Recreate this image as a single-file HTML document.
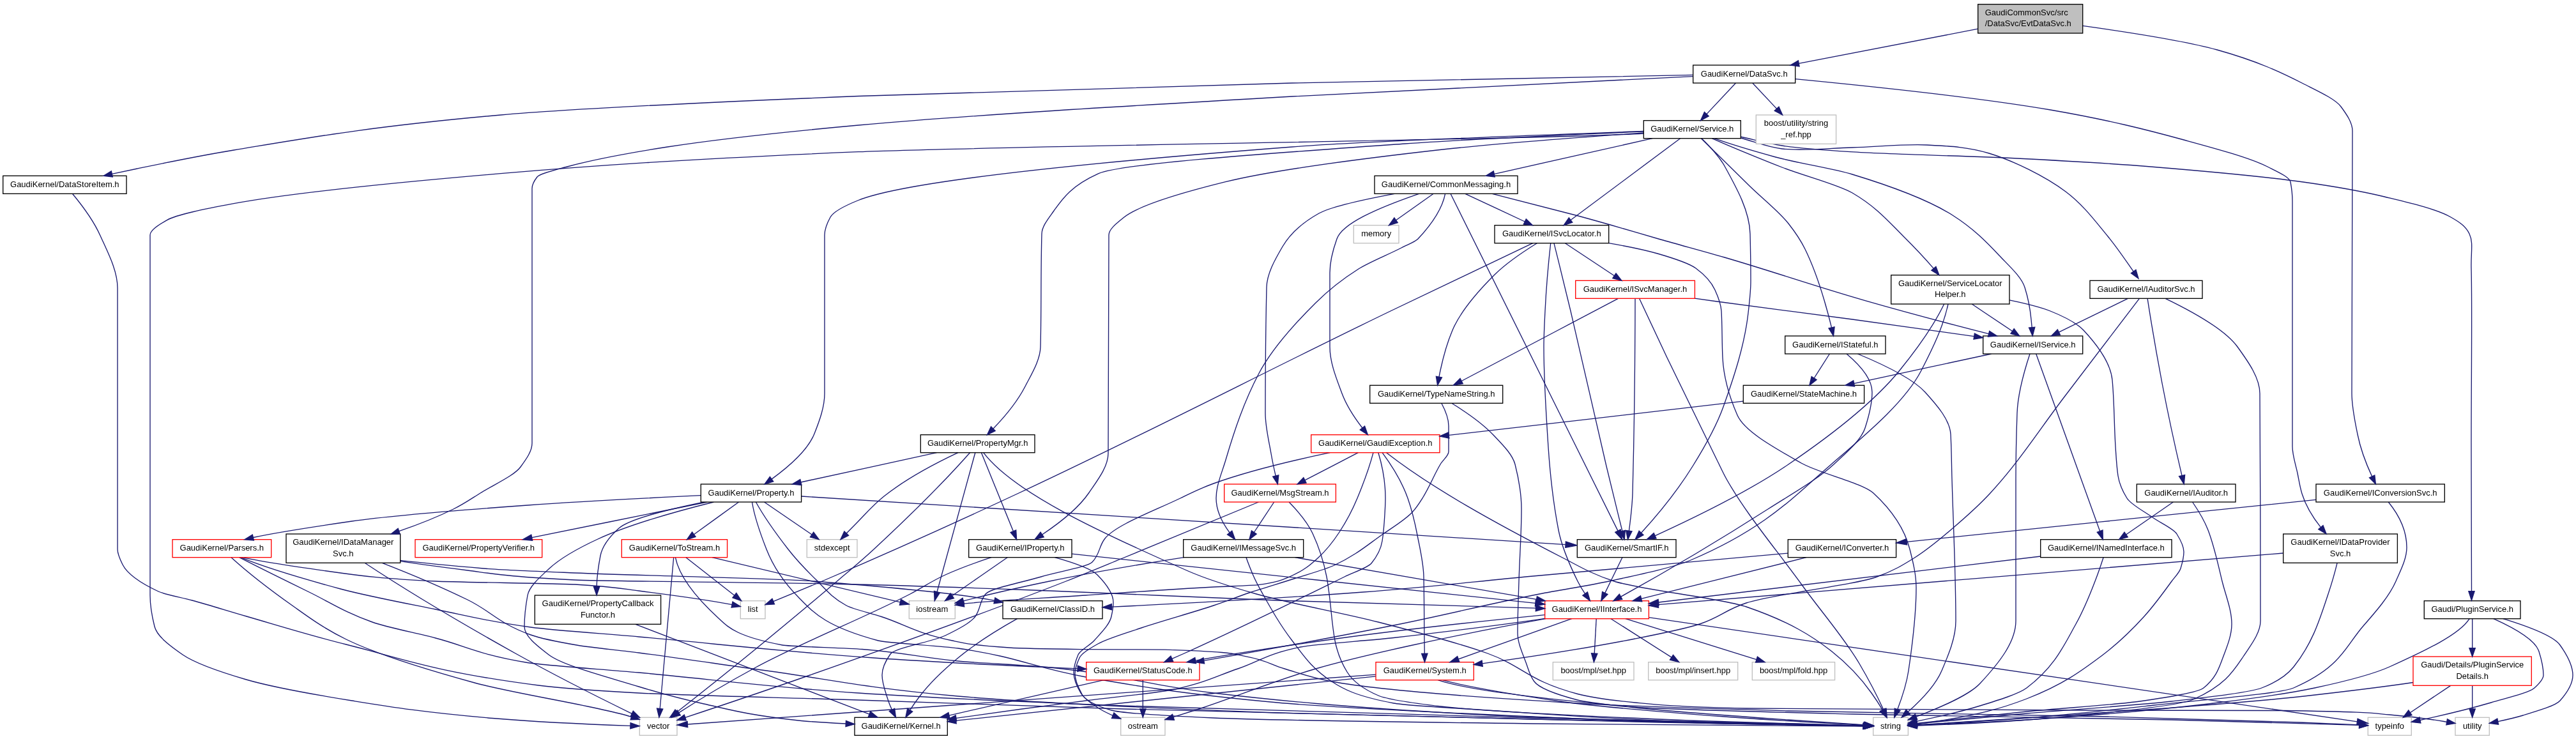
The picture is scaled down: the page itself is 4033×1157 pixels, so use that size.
<!DOCTYPE html><html><head><meta charset="utf-8"><title>EvtDataSvc.h include graph</title>
<style>html,body{margin:0;padding:0;background:#fff}svg{display:block}.t{filter:grayscale(1)}text{font-family:"Liberation Sans",sans-serif;font-size:13px;fill:#000}.e path{fill:none;stroke:#191970;stroke-width:1.33}.e polygon{fill:#191970;stroke:#191970;stroke-width:1.33}.n rect{stroke-width:1.33}</style></head><body>
<svg width="4033" height="1157" viewBox="0 0 4033 1157">
<rect width="4033" height="1157" fill="#fff"/>
<g class="e">
<path d="M3096.7,45.2C3003.2,63.3 2909.7,81.4 2816.2,99.4"/>
<path d="M3260.7,40.4C3350.1,52.9 3425.9,65.5 3471,78C3534.6,95.7 3571.2,113.3 3606,131C3629.6,143 3656.1,155 3665,167C3674.4,179.7 3683,192.3 3683,205C3683,342 3682,479 3682,616C3682,637.3 3686.7,658.7 3691,680C3695.4,702 3703.4,723.9 3713.6,745.9"/>
<path d="M2717.5,130C2702.3,146.2 2687.1,162.5 2671.8,178.7"/>
<path d="M2650.7,119.6C2419.2,130.1 2205,140.5 2023,151C1762.2,166 1508.7,181 1344,196C1219.6,207.3 1117.5,218.7 1045,230C978.9,240.3 925.4,250.7 888,261C868.7,266.3 845.2,271.7 841,277C836.3,283 833,289 833,295C833,428 833,561 833,694C833,706.3 824,718.7 815,731C805,744.7 774,758.3 752,772C738.6,780.3 726.9,788.7 710,797C686.5,808.6 658.2,820.1 624.7,831.7"/>
<path d="M2810.7,123.6C2977,139.7 3116.4,155.9 3210,172C3300.9,187.7 3361.7,203.3 3419,219C3470.2,233 3522.5,247 3550,261C3565.7,269 3584.4,277 3586,285C3587.9,295 3589,305 3589,315C3589,443 3589,571 3589,699C3589,713 3594.1,727 3597,741C3599.2,751.7 3600.7,762.3 3604,773C3609.4,790.5 3619.5,808.1 3633.4,825.6"/>
<path d="M2650.7,117.4C2412.5,121.6 2193.3,125.8 2023,130C1745.9,136.8 1511.6,143.7 1344,150.5C1102.8,160.3 895.5,170.2 784,180C576,198.3 477.2,216.7 366,235C307.4,244.7 261.5,254.3 215,264C201.5,266.8 188.2,269.6 175.3,272.4"/>
<path d="M2743.8,130C2756.4,143.4 2769,156.8 2781.6,170.2"/>
<path d="M2684,216.7C2711.2,226.4 2744.3,236.2 2780,246C2812.8,255 2870.4,264 2900,273C2970.2,294.3 3023.5,315.7 3057,337C3090,358 3110.3,379 3130,400C3145.7,416.7 3164.7,433.3 3170,450C3175.3,466.7 3178.4,483.3 3180,500C3180.4,504.2 3180.8,508.4 3181.2,512.6"/>
<path d="M2630.6,216.7C2573.4,259.3 2516.2,301.9 2459.1,344.5"/>
<path d="M2680.2,216.7C2714.4,231.8 2751.3,246.9 2790,262C2824.1,275.3 2877.2,288.7 2900,302C2938.7,324.7 2957.1,347.3 2980,370C2997,386.8 3012.9,403.6 3027.3,420.4"/>
<path d="M2573.3,207.9C2445.5,217 2329.8,226 2250,235C2103.5,251.6 1985.6,268.1 1918.7,284.7C1844.2,303.1 1783,321.6 1760,340C1748.4,349.3 1736.1,358.7 1736,368C1735.1,482 1735.9,596 1735,710C1734.8,730.7 1718.7,751.3 1704.5,772C1689.6,793.7 1663.9,815.4 1631.6,837"/>
<path d="M2663.4,216.7C2688.7,241.8 2714.3,266.9 2740,292C2759.8,311.3 2784.8,330.7 2800,350C2810.5,363.3 2819.5,376.7 2826,390C2839.1,416.7 2848.1,443.3 2856,470C2860.2,484.3 2864.1,498.6 2867.5,512.8"/>
<path d="M2573.3,205.9C2427.2,212.3 2289.8,218.6 2200,225C1979.8,240.6 1754.5,256.1 1720,271.7C1677,291.1 1663.8,310.6 1650,330C1641.5,342 1631.3,354 1631,366C1629.3,425 1630.5,484 1629,543C1628.5,563.7 1615.7,584.3 1605,605C1593.6,627.1 1576.3,649.1 1554.9,671.2"/>
<path d="M2573.3,205.5C2353.8,213.7 2129.6,221.8 2023,230C1659.7,257.8 1412.9,285.7 1344,313.5C1322.1,322.3 1304.8,331.2 1300,340C1294.9,349.3 1291,358.7 1291,368C1291,450.7 1291,533.3 1291,616C1291,637 1283.3,658 1275,679C1265.6,702.7 1240.8,726.4 1208.1,750.1"/>
<path d="M2725,216C2746.7,221.7 2765.3,230 2790,233C2821.6,236.8 2862.8,232 2900,231C2938.4,230 2979.9,225.2 3017,227C3050.9,228.7 3080.8,229.8 3114,240C3152.8,251.9 3201.6,275.9 3234,300C3261.4,320.4 3280.4,346.4 3300,370C3315.1,388.2 3327.3,406.7 3340.2,425.1"/>
<path d="M2587.1,216.7C2504.5,235.2 2421.9,253.8 2339.3,272.4"/>
<path d="M2664,216.7C2678.8,231.1 2692,245.6 2700,260C2719.5,295.3 2739.1,330.7 2740,366C2740.6,390.7 2741,415.3 2741,440C2741,456.7 2738.9,473.3 2737,490C2731.5,539 2715.6,588 2698,637C2686.9,668 2669.3,699 2650,730C2628.4,764.8 2601.2,799.6 2569.5,834.3"/>
<path d="M2725,214C2746.7,218.7 2765.5,224.3 2790,228C2821.1,232.7 2853.5,234.9 2897,237.7C2964.9,242.1 3075.8,243.8 3158,248C3231.6,251.7 3295.1,255.2 3367,261C3444.1,267.3 3539,275.6 3606,285C3655.1,291.9 3693.1,298.3 3733,308C3769.7,316.9 3813.9,326.9 3837,340C3850.8,347.8 3860.4,354.3 3866,366C3872.6,379.8 3868.3,395 3869,420C3870.6,476.9 3868.9,610.3 3869,700C3869.1,778.1 3869.3,850.7 3869.5,925.6"/>
<path d="M2573.3,209C2573.2,209 2573.1,209 2573,209C2412.2,218.6 1574.5,228.1 1344,237.7C1071,249 917,260.4 784,271.7C600.1,287.4 449.8,303 366,318.7C319.5,327.4 276.1,336.1 261,344.8C247.6,352.5 235,360.3 235,368C235,556 235,744 235,932C235,948.3 237.9,964.7 242,981C245.7,995.7 264.7,1010.3 286,1025C304.8,1038 341.2,1051 385.6,1064C423.2,1075 482.7,1086 551,1097C607.9,1106.2 662.6,1115.3 771,1124.5C817.4,1128.4 869.4,1132.3 986.9,1136.3"/>
<path d="M3187.7,554C3221,646.5 3254.3,739.1 3287.6,831.6"/>
<path d="M3117.7,554C3046,569.5 2974.4,584.9 2902.7,600.4"/>
<path d="M3178,554C3167.8,585 3159.1,616 3158,647C3156.8,681.3 3156,715.7 3156,750C3156,824 3156,898 3156,972C3156,1004.7 3130.4,1037.3 3100,1070C3083.8,1087.4 3044.9,1104.8 3000,1122.2"/>
<path d="M3194.7,871C2995.3,895 2796,919 2596.7,943"/>
<path d="M3293.1,872.7C3289.1,885.1 3284.8,897.6 3280,910C3271.5,932.3 3262.4,954.7 3250,977C3231.4,1010.3 3217.1,1043.7 3173,1077C3160.6,1086.3 3130.2,1095.7 3100,1105C3073.8,1113.1 3039.9,1121.2 3000.6,1129.3"/>
<path d="M2418.7,968.3C2351.4,978.4 2269.2,988.4 2182,998.5C2140.1,1003.3 2059.4,1008.2 2036,1013C1981.1,1024.3 1971.7,1035.7 1938,1047C1906.3,1057.7 1888.9,1068.3 1840,1079C1812.5,1085 1746.4,1091 1700,1097C1666.5,1101.3 1631.8,1105.7 1600,1110C1564.7,1114.8 1530.2,1119.6 1496.9,1124.4"/>
<path d="M2460.7,968.7C2401.6,989.7 2342.4,1010.8 2283.3,1031.9"/>
<path d="M2418.7,962.6C2290.9,975.4 2176.7,988.2 2085,1001C2005.7,1012.1 1933,1023.1 1871.7,1034.2"/>
<path d="M2420,968.7C2341.9,982.8 2271,996.9 2207,1011C2152.6,1023 2101.4,1035 2060,1047C1987.6,1068 1941.4,1089 1877,1110C1864,1114.2 1850.6,1118.5 1837,1122.7"/>
<path d="M2581.3,966.6C2951,1021 3320.7,1075.4 3690.4,1129.8"/>
<path d="M2499.2,968.7C2498.2,986.8 2497.2,1004.9 2496.2,1023.1"/>
<path d="M2522,968.7C2553.6,988.8 2585.3,1009 2617,1029.2"/>
<path d="M2544.9,968.7C2613.3,990 2681.6,1011.3 2750,1032.6"/>
<path d="M2154,1058.8C1934.9,1081.9 1715.8,1105.1 1496.7,1128.2"/>
<path d="M2258.8,1064.7C2296.1,1075.4 2365,1086.2 2435,1097C2489.1,1105.3 2589.2,1113.7 2700,1122C2758.2,1126.4 2835,1130.8 2918.1,1135.1"/>
<path d="M2154,1056.2C1794.8,1082.1 1435.6,1108.1 1076.4,1134"/>
<path d="M2251.2,1064.7C2292.6,1078.8 2396.2,1092.9 2560,1107C2602.6,1110.7 2753,1114.3 2900,1118C3020.3,1121 3275,1124 3400,1127C3515.7,1129.8 3619.7,1132.6 3693.6,1135.3"/>
<path d="M1728.2,1064.7C1647.4,1083.1 1566.7,1101.6 1485.9,1120.1"/>
<path d="M1789.3,1064.7C1789.3,1079.7 1789.3,1094.8 1789.3,1109.8"/>
<path d="M2729.3,628.2C2575.6,646 2422,663.7 2268.3,681.4"/>
<path d="M2082.2,708.7C2005.2,724.8 1944.8,740.9 1900,757C1878.7,764.7 1863.9,772.3 1848,780C1804.3,801 1746.8,822 1730,843C1720.1,855.3 1722.2,867.7 1710,880C1702.4,887.7 1655.7,895.3 1630,903C1599.9,912 1550.4,921 1543,930C1533.3,941.7 1535.4,953.3 1527,965C1519.8,975 1500.5,985 1480,995C1460.1,1004.7 1400.8,1014.3 1394,1024C1386.2,1035 1381,1046 1381,1057C1381,1069.7 1386,1082.3 1390,1095C1391.7,1100.5 1393.9,1106 1396.5,1111.4"/>
<path d="M2157.9,708.7C2165.1,732.4 2169,756.2 2169,780C2169,788.3 2168.5,796.7 2168,805C2167.2,819 2166.3,833 2164,847C2162.1,858.7 2156.6,870.3 2147,882C2141.2,889 2119.2,896 2105,903C2023.6,943 1943.3,983 1854,1023C1847.7,1025.8 1841.3,1028.6 1834.9,1031.4"/>
<path d="M2126.3,708.7C2098.5,723.1 2070.7,737.4 2042.9,751.8"/>
<path d="M2164.1,708.7C2181.6,732.4 2195.6,756.2 2204,780C2210.8,799.3 2215.3,818.7 2219,838C2223.2,859.7 2228.6,881.3 2229,903C2229.7,935.3 2229.6,967.7 2230,1000C2230.1,1007.8 2230.2,1015.5 2230.3,1023.3"/>
<path d="M2170.6,708.7C2241,763.8 2341,818.9 2448,874C2471.3,886 2490.3,898 2527,910C2567.8,923.3 2695.1,936.7 2734,950C2802.1,973.3 2838.4,996.7 2868,1020C2895.5,1041.7 2914.6,1063.3 2930,1085C2936.3,1093.8 2942.1,1102.6 2947.2,1111.4"/>
<path d="M2150,708.7C2143.8,732.4 2134.9,756.2 2125,780C2117.7,797.7 2108.5,815.3 2097,833C2088.3,846.3 2078.4,859.7 2064,873C2053.2,883 2042,893 2019,903C2009.3,907.2 2002,911.5 1970,915.7C1961.7,916.8 1920.3,917.9 1900,919C1820.2,923.3 1763.7,927.7 1700,932C1635.1,936.4 1546.8,940.8 1509.1,945.2"/>
<path d="M1994.7,786C1984.3,801.8 1973.8,817.7 1963.3,833.5"/>
<path d="M1970.5,786C1899.4,815.7 1827.4,845.3 1755,875C1726.5,886.7 1698.8,898.3 1669,910C1543.7,959 1407.5,1008 1268,1057C1205,1079.1 1139.5,1101.3 1072.8,1123.4"/>
<path d="M2018.1,786C2034,802.3 2047.4,818.7 2055,835C2065.5,857.7 2072.6,880.3 2077,903C2078.7,912 2079.8,921 2081,930C2084.3,954.3 2085.3,978.7 2090,1003C2093.2,1019.3 2098.9,1035.7 2109,1052C2116.6,1064.3 2129.2,1076.7 2158,1089C2171.2,1094.7 2207.8,1100.3 2256,1106C2318.4,1113.3 2466.4,1120.7 2644,1128C2710.5,1130.7 2812,1133.5 2917.7,1136.2"/>
<path d="M2027.4,872.7C2153.4,894.5 2279.5,916.4 2405.6,938.3"/>
<path d="M1853.7,872.7C1774.1,885.1 1703.1,897.6 1643,910C1593.2,920.3 1547.7,930.6 1508.3,940.9"/>
<path d="M1951,872.7C1954.5,882.8 1958.6,892.9 1963,903C1966.9,912 1972,921 1977,930C1990.6,954.3 2004.3,978.7 2023,1003C2039.4,1024.3 2052.5,1045.7 2085,1067C2102.3,1078.3 2122.1,1089.7 2182,1101C2201.4,1104.7 2274,1108.3 2329,1112C2419,1118 2485.2,1124 2644,1130C2701.5,1132.2 2809,1134.3 2918.9,1136.5"/>
<path d="M2427.7,380.7C2423.7,416.1 2420.7,451.6 2419,487C2418.1,505.7 2417,524.3 2417,543C2417,595.3 2420.5,647.7 2424,700C2426.9,743.3 2431.6,786.7 2440,830C2445.1,856.7 2456.8,883.3 2470,910C2473.2,916.5 2477.2,923.1 2481.6,929.6"/>
<path d="M2450.4,380.7C2476.1,397.7 2501.7,414.7 2527.4,431.7"/>
<path d="M2406.3,380.7C2379.9,397.1 2356.5,413.6 2340,430C2310.9,459 2286.2,488 2274,517C2265.1,538 2259.5,559 2255,580C2254.3,583.4 2253.6,586.8 2253,590.1"/>
<path d="M2432.9,380.7C2441.8,416.1 2450.5,451.6 2459,487C2478.4,568 2495.7,649 2515,730C2523.1,763.8 2531.4,797.7 2539.9,831.5"/>
<path d="M2518.7,380.6C2549.9,386 2576,391.5 2595,397C2621.6,404.7 2644.6,412.3 2655,420C2670.4,431.3 2679.9,442.7 2685,454C2690,465 2694.4,476 2695,487C2696.4,511.3 2695.8,535.7 2697,560C2698.4,590 2706.9,620 2720,650C2730.9,675 2776.2,700 2820,725C2847.5,740.7 2916,756.3 2933,772C2964.8,801.3 2982.5,830.7 2990,860C2995.1,880 3000,900 3000,920C3000,963.3 2994.4,1006.7 2988,1050C2985,1070.3 2978.4,1090.6 2970.6,1110.9"/>
<path d="M2399.8,380.7C2324.9,416.1 2250.5,451.6 2177,487C1980.1,582 1798.6,677 1595,772C1498.6,817 1399.1,862 1294,907C1267,918.5 1239.1,930.1 1210.7,941.6"/>
<path d="M2560,467.3C2559.9,568.9 2558.7,670.4 2556,772C2555.5,791.7 2553,811.5 2550.4,831.2"/>
<path d="M2653.3,467.1C2664.7,468.7 2676.3,470.4 2688,472C2754.9,481.3 2831.6,490.7 2900,500C2965,508.9 3028.7,517.8 3090.7,526.6"/>
<path d="M2533.4,467.3C2451.7,510.4 2369.9,553.5 2288.2,596.5"/>
<path d="M2566.5,467.3C2580.8,498.2 2595.3,529.1 2610,560C2635.5,613.3 2661.6,666.7 2688,720C2693,730 2697.4,740 2703,750C2734.4,805.7 2781.8,861.3 2822,917C2851.3,957.7 2887.1,998.3 2911,1039C2925.1,1063 2937.9,1087.1 2948.8,1111.1"/>
<path d="M2539.9,872.7C2530.8,891.3 2521.8,909.8 2512.8,928.4"/>
<path d="M2272.7,631.3C2299.8,647.9 2322.2,664.4 2338,681C2352.6,696.3 2368.1,711.7 2372,727C2377.9,750.3 2382,773.7 2382,797C2382,834.7 2379.1,872.3 2378,910C2377.2,937 2376,964 2376,991C2376,1007.3 2384.2,1023.7 2390,1040C2393.2,1049 2395.3,1058 2402,1067C2409.2,1076.7 2432.8,1086.3 2470,1096C2485.4,1100 2523.1,1104 2560,1108C2618.5,1114.3 2711,1120.7 2800,1127C2836.7,1129.6 2877.2,1132.2 2919.3,1134.8"/>
<path d="M2256.8,631.3C2263.2,643.2 2268,655.1 2268,667C2268,680.3 2268,693.7 2268,707C2268,713.7 2258.9,720.3 2255,727C2244.5,744.7 2238.1,762.3 2227,780C2222.4,787.3 2217.8,794.7 2211,802C2200.2,813.7 2180.8,825.3 2164,837C2141,853 2123.3,869 2089,885C2074,892 2047.6,899 2026,906C2003.4,913.3 1977.8,920.7 1956,928C1936.2,934.7 1919.9,941.3 1900,948C1865.2,959.7 1821.3,971.3 1787,983C1762.5,991.3 1733.7,999.7 1719,1008C1706.1,1015.3 1693.4,1022.7 1690,1030C1686.1,1038.3 1683,1046.7 1683,1055C1683,1065.7 1688.1,1076.3 1694,1087C1698.2,1094.7 1709.6,1102.3 1722,1110C1727.5,1113.4 1734.4,1116.8 1742.3,1120.3"/>
<path d="M3146,469.9C3173.5,475.6 3195.7,481.3 3210,487C3235,497 3252.6,507 3262,517C3286.3,543 3304.6,569 3307,595C3310.2,629.7 3309.8,664.3 3312,699C3313,714.3 3313.7,729.7 3316,745C3317.7,756.7 3322.7,768.3 3330,780C3336.2,790 3356,800 3370,810C3382.1,818.7 3402.6,827.3 3408,836C3413.8,845.3 3419,854.7 3419,864C3419,872.7 3416.7,881.3 3414,890C3411.9,896.7 3404.9,903.3 3400,910C3386.6,928.3 3373.6,946.7 3357,965C3338.3,985.7 3317.5,1006.3 3290,1027C3260.3,1049.3 3230.6,1071.7 3173,1094C3138.8,1107.3 3098.1,1120.5 3001.5,1133.8"/>
<path d="M3050,476C3042.7,510.7 3025.9,545.3 3008,580C2982.7,629 2923.8,678 2867,727C2809,777 2764.7,827 2647,877C2621.1,888 2569.5,899 2519,910C2488.4,916.7 2443.8,923.3 2410,930C2327.1,946.3 2263.8,962.7 2182,979C2089.6,997.5 1990.7,1015.9 1884.8,1034.4"/>
<path d="M3043.7,476C3027.1,510.7 3002.2,545.3 2974,580C2934.2,629 2872.1,678 2800,727C2745.1,764.3 2672.8,801.5 2591.1,838.8"/>
<path d="M3087.2,476C3108.3,490.2 3129.4,504.3 3150.6,518.5"/>
<path d="M1678,867.2C1920,893 2161.9,918.7 2403.9,944.4"/>
<path d="M1577.2,872.7C1548.4,892.7 1519.5,912.8 1490.7,932.8"/>
<path d="M1552,872.7C1524.3,881.8 1500.1,890.9 1480,900C1458,910 1444.3,920 1425,930C1350.9,968.3 1253.6,1006.7 1183,1045C1139.5,1068.6 1099.3,1092.3 1062.8,1115.9"/>
<path d="M1651.3,872.7C1683.7,881.8 1709.1,890.9 1718,900C1732,914.3 1743,928.7 1743,943C1743,950.3 1741.6,957.7 1740,965C1737.3,977.7 1724.3,990.3 1713,1003C1706.5,1010.3 1691.1,1017.7 1688,1025C1684.1,1034.3 1681,1043.7 1681,1053C1681,1063.7 1685.7,1074.3 1692,1085C1697.3,1094 1708.7,1103 1740,1112C1753.9,1116 1811.4,1120 1900,1124C1966.5,1127 2155.5,1130 2400,1133C2510,1134.4 2710.4,1135.7 2916.8,1137.1"/>
<path d="M2891,554C2914.7,574 2931,594 2931,614C2931,632.7 2926,651.3 2920,670C2913.9,689 2891.4,708 2871,727C2845.9,750.3 2804.5,773.7 2768,797C2696.5,842.7 2620.4,888.5 2537.6,934.2"/>
<path d="M2864.4,554C2856.3,566.7 2848.2,579.3 2840.2,592"/>
<path d="M2908.4,554C2956.6,574 2995.8,594 3014,614C3034,636 3052.8,658 3054,680C3055.3,703.3 3055.3,726.7 3056,750C3058.1,824 3062,898 3062,972C3062,998 3051.1,1024 3040,1050C3030.8,1071.5 3011.4,1093 2987.2,1114.5"/>
<path d="M1526.8,708.7C1506.9,781.4 1486.9,854.1 1467,926.7"/>
<path d="M1518.5,708.7C1474,759.1 1422.3,809.6 1368,860C1351.2,875.7 1332.5,891.3 1314,907C1232.4,976.2 1148.6,1045.5 1059.9,1114.7"/>
<path d="M1539.7,708.7C1586.2,770.4 1719.5,832.2 1860,894C1887.3,906 1924.9,918 1967,930C2018.4,944.7 2101.1,959.3 2158,974C2221.3,990.3 2284.2,1006.7 2329,1023C2387,1044.2 2390.9,1065.3 2470,1086.5C2486.8,1091 2513.9,1095.5 2560,1100C2590.7,1103 2613.4,1106 2734,1109C2774.2,1110 2943.4,1111 3260,1112C3312.8,1112.2 3562.8,1112.3 3574,1112.5C3719.2,1114.7 3713.7,1116.8 3741,1119C3788.5,1122.8 3808.3,1126.5 3830.7,1130.3"/>
<path d="M1499.9,708.7C1451.7,731.4 1412.8,754.2 1384,777C1365.9,791.3 1354.2,805.7 1340,820C1335,825 1330.1,830 1325.2,835"/>
<path d="M1466.5,708.7C1395.6,724.1 1324.7,739.6 1253.8,755"/>
<path d="M1536.4,708.7C1553,749.7 1569.7,790.7 1586.4,831.7"/>
<path d="M1177.5,786C1181.2,810.7 1190.3,835.3 1200,860C1209.8,885 1225.4,910 1250,935C1272.3,957.7 1290.3,980.3 1375,1003C1389.9,1007 1473,1011 1500,1015C1601.3,1030 1615.9,1045 1700,1060C1774.8,1073.3 1852.5,1086.7 2000,1100C2081.1,1107.3 2236.4,1114.7 2400,1122C2481.8,1125.7 2554.6,1129.3 2700,1133C2749.5,1134.2 2832.8,1135.5 2919,1136.7"/>
<path d="M1196.5,786C1221.3,803 1246.2,820 1271.1,837"/>
<path d="M1183.4,786C1197.1,810.7 1214.8,835.3 1234,860C1246.2,875.7 1260.9,891.3 1277,907C1291.1,920.7 1300.2,934.3 1325,948C1335.6,953.8 1362.2,959.7 1380,965.5C1418.2,978 1431.8,990.5 1491,1003C1508.4,1006.7 1522,1010.3 1580,1014C1593.7,1014.9 1614.8,1015.7 1691,1016.6C1705.7,1016.8 1818.8,1016.9 1824,1017.1C1935.3,1020.6 1931.3,1024.2 1950,1027.7C1984,1034.1 1989.1,1040.6 2011,1047C2033.7,1053.7 2049.4,1060.3 2085,1067C2145.6,1078.3 2275.3,1089.7 2470,1101C2538.7,1105 2650.4,1109 2800,1113C2912.2,1116 3175,1119 3300,1122C3425,1125 3520.7,1128 3600,1131C3634.5,1132.3 3666.1,1133.6 3694,1134.9"/>
<path d="M1117.4,786C1040.1,805.3 977.7,824.7 936,844C902.9,859.3 876.6,874.7 860,890C844.9,904 828.6,918 826,932C823,948.3 821,964.7 821,981C821,995.7 839.8,1010.3 859,1025C880.8,1041.7 945.4,1058.3 1000,1075C1029.5,1084 1061.1,1093 1102,1102C1141.4,1110.7 1169.5,1119.3 1250,1128C1265.6,1129.7 1292.7,1131.4 1324.2,1133"/>
<path d="M1107.1,786C1015.6,804.6 924.2,823.2 832.7,841.7"/>
<path d="M1097.3,775.7C991.7,780.8 897,785.9 826,791C709.9,799.3 608.5,807.7 551,816C492.4,824.5 435.3,833 396.4,841.5"/>
<path d="M1156.6,786C1133.2,802.9 1109.8,819.8 1086.4,836.7"/>
<path d="M1254.7,777C1653.5,802.2 2052.3,827.4 2451.1,852.6"/>
<path d="M1102.8,786C1035.8,799.7 984.2,813.3 969,827C953.1,841.3 942.8,855.7 940,870C936.9,886.1 934.6,902.3 934.1,918.4"/>
<path d="M374.6,872.7C410.2,890.8 446.8,908.9 484,927C516.2,942.7 538.5,958.3 583,974C606.7,982.3 650,990.7 682,999C730.6,1011.7 747.5,1024.3 823,1037C854.8,1042.3 941.8,1047.7 1000,1053C1116.5,1063.7 1189,1074.3 1344,1085C1440.9,1091.7 1588.2,1098.3 1760,1105C1923.2,1111.3 2153.2,1117.7 2400,1124C2516.9,1127 2680.3,1130 2800,1133C2842,1134.1 2881.3,1135.1 2918.8,1136.2"/>
<path d="M362,872.7C389.8,898.1 423.1,923.6 459,949C483.4,966.3 506.5,983.7 542,1001C588.4,1023.7 660.4,1046.3 743,1069C806.2,1086.3 925.2,1103.7 984,1121C985.6,1121.5 987.1,1121.9 988.6,1122.4"/>
<path d="M379.9,872.7C415,880.8 473.8,888.9 533,897C564.6,901.3 595.9,905.7 682,910C715.1,911.7 870.9,913.3 900,915C958.3,918.3 973.9,921.7 1000,925C1056.6,932.2 1109.8,939.4 1146.1,946.7"/>
<path d="M376.8,872.7C416.4,889.1 472.3,905.6 533,922C572.4,932.7 628.9,943.3 682,954C728.4,963.3 761,972.7 831,982C868.5,987 943.9,992 1000,997C1123.4,1008 1211.8,1019 1368,1030C1429.5,1034.3 1509,1038.7 1600,1043C1626.4,1044.3 1655.8,1045.5 1687.1,1046.8"/>
<path d="M1114.8,872.7C1213,896 1311.2,919.4 1409.5,942.8"/>
<path d="M1054.7,872.7C1047.5,951.6 1040.4,1030.6 1033.2,1109.5"/>
<path d="M1073.9,872.7C1099.2,892.5 1124.6,912.3 1149.9,932.2"/>
<path d="M1057.4,872.7C1063.7,904.4 1090.3,936.2 1125,968C1140.3,982 1151.7,996 1225,1010C1236.3,1012.2 1323.6,1014.3 1350,1016.5C1425.2,1022.7 1434.2,1028.8 1500,1035C1535.6,1038.3 1612,1041.7 1644,1045C1772,1058.3 1787.2,1071.7 1900,1085C1993.1,1096 2102,1107 2300,1118C2384,1122.7 2525,1127.3 2700,1132C2757,1133.5 2836.1,1135 2918.3,1136.6"/>
<path d="M994.9,977.3C1116.9,1024.3 1239,1071.3 1361,1118.2"/>
<path d="M3331.4,467.3C3295.3,484.9 3259.3,502.5 3223.3,520.1"/>
<path d="M3349.4,467.3C3310.8,518.2 3272,569.1 3233,620C3194.2,670.7 3162.6,721.3 3116,772C3098.7,790.8 3077.7,809.6 3055.5,828.4C3037.4,843.8 3020,859.1 2995.4,874.5C2980.2,884 2965,893.5 2938.6,903C2900.6,916.7 2775.3,930.3 2734,944C2700.7,955 2694,966 2661,977C2638,984.7 2599.2,992.3 2560,1000C2493.8,1012.9 2414.5,1025.9 2320.7,1038.8"/>
<path d="M3390.1,467.3C3442.5,492.6 3484.7,517.8 3503,543C3520.6,567.3 3537.8,591.7 3538,616C3538.8,734.7 3539,853.3 3539,972C3539,990.7 3524.6,1009.3 3512,1028C3497,1050.3 3483.9,1072.7 3434,1095C3411.6,1105 3315.8,1115 3200,1125C3156.9,1128.7 3100.7,1132.4 3001.3,1136.2"/>
<path d="M3362.1,467.3C3368.9,511.6 3376.6,555.8 3385,600C3394.2,648.2 3404.6,696.4 3416,744.6"/>
<path d="M3402.4,786C3377.8,803 3353.2,820 3328.6,837"/>
<path d="M3432.6,786C3442.6,800.7 3451.4,815.3 3457,830C3467.2,856.7 3472.4,883.3 3479,910C3484.5,932.3 3494,954.7 3494,977C3494,994.7 3486.7,1012.3 3480,1030C3474.1,1045.7 3469.5,1061.3 3450,1077C3441.3,1084 3397.5,1091 3350,1098C3313.8,1103.3 3226.7,1108.7 3173,1114C3111.3,1120.1 3053.1,1126.3 3000.8,1132.4"/>
<path d="M2336.2,303.3C2381.7,314.6 2425,325.8 2467,337C2485.7,342 2503.4,347 2521,352C2548,359.7 2573.2,367.3 2600,375C2632.7,384.3 2668,393.7 2700,403C2777.2,425.5 2841.2,448.1 2920,470.6C2980.7,488 3045.4,505.3 3113.5,522.7"/>
<path d="M2293.9,303.3C2325,317.9 2356.2,332.4 2387.3,347"/>
<path d="M2262.6,303.3C2258,326.9 2242.1,350.4 2220,374C2215.6,378.7 2203,383.3 2194,388C2172.8,399 2144.5,410 2127,421C2099,438.7 2077.8,456.3 2060,474C2022.8,510.8 1990.4,547.7 1971,584.5C1947.2,629.7 1932.3,674.8 1919,720C1913.1,740 1904,760 1904,780C1904,798 1911.8,816 1925.2,834"/>
<path d="M2183.3,303.3C2128.1,313.6 2083.3,323.8 2065,334C2034,351.3 2018.1,368.7 2008,386C1995.5,407.3 1983.5,428.7 1983,450C1981.5,515.7 1981,581.3 1981,647C1981,668 1986.3,689 1990,710C1992,721.7 1994.5,733.4 1997.2,745"/>
<path d="M2271,303.3C2358.3,479.3 2445.6,655.2 2533,831.1"/>
<path d="M2221.6,303.3C2153.3,326.9 2101.3,350.4 2093,374C2086.7,391.7 2082,409.3 2082,427C2082,465.7 2082,504.3 2082,543C2082,567.3 2091.9,591.7 2101,616C2107.7,634 2119,652 2132.9,670"/>
<path d="M2244.2,303.3C2224.7,317.1 2205.1,331 2185.6,344.8"/>
<path d="M3866.2,968.7C3850.5,993.8 3796.3,1018.9 3741,1044C3716.8,1055 3675.4,1066 3624,1077C3588.2,1084.7 3536.7,1092.3 3474,1100C3400.4,1109 3309.3,1118 3173,1127C3129.8,1129.9 3066.9,1132.7 3001.1,1135.6"/>
<path d="M3903.8,968.7C3941.8,985.8 3969.6,1002.9 3975,1020C3978.9,1032.3 3982,1044.7 3982,1057C3982,1063.7 3975.4,1070.3 3968,1077C3959.4,1084.7 3926.4,1092.3 3900,1100C3868.5,1109.2 3831.4,1118.3 3788.9,1127.5"/>
<path d="M3918.8,968.7C3963.4,982.4 3998.2,996.2 4008,1010C4019.2,1025.7 4028,1041.3 4028,1057C4028,1070.3 4019.8,1083.7 4008,1097C4001.2,1104.7 3975.3,1112.3 3950,1120C3939.5,1123.2 3926,1126.4 3910.7,1129.6"/>
<path d="M3870.7,968.7C3870.7,984 3870.7,999.3 3870.7,1014.7"/>
<path d="M3778,1068.5C3729.8,1075.7 3670.5,1082.8 3607,1090C3506.6,1101.3 3336.5,1112.7 3173,1124C3120.6,1127.6 3061.8,1131.3 3001.1,1134.9"/>
<path d="M3836.8,1073.3C3815.7,1087.5 3794.6,1101.7 3773.4,1115.8"/>
<path d="M3870.7,1073.3C3870.7,1085.5 3870.7,1097.7 3870.7,1109.8"/>
<path d="M626.7,878.7C657.9,883.4 694.4,888.2 732,893C771.3,898 793.2,903 900,908C942.7,910 1211.7,912 1300,914C1461.8,917.7 1544.3,921.3 1644,925C1779.9,930 1860,935 2000,940C2113.7,944.1 2251.2,948.1 2404.4,952.2"/>
<path d="M598.3,881.3C648,900.6 692.7,919.8 732,939C769.5,957.3 779.8,975.7 831,994C845.9,999.3 871.7,1004.7 903,1010C926.4,1014 969.4,1018 1000,1022C1071.4,1031.3 1131.8,1040.7 1200,1050C1297.4,1063.3 1351.5,1076.7 1500,1090C1596.5,1098.7 1767.6,1107.3 2000,1116C2134.1,1121 2359.6,1126 2600,1131C2690.6,1132.9 2802.3,1134.8 2918.2,1136.7"/>
<path d="M571,881.3C642.5,928.6 722.3,975.8 807,1023C863.4,1054.4 924.9,1085.9 989.3,1117.3"/>
<path d="M626.7,877.4C663.1,881.6 708.1,885.8 757,890C784.2,892.3 845.1,894.7 900,897C1001.9,901.3 1219.1,905.7 1275,910C1404.9,920.1 1505.4,930.2 1556.9,940.2"/>
<path d="M1592.6,968.7C1556.2,989.1 1524.7,1009.6 1500,1030C1475.8,1050 1455.2,1070 1440,1090C1434.5,1097.3 1429.3,1104.6 1424.7,1111.8"/>
<path d="M3574.7,866C3248.5,892.9 2922.4,919.8 2596.2,946.7"/>
<path d="M3659.1,881.3C3655.2,897.6 3650.4,913.8 3645,930C3632.3,968 3621.3,1006 3591,1044C3582.2,1055 3569.5,1066 3541,1077C3522.8,1084 3460.5,1091 3400,1098C3345.3,1104.3 3243.8,1110.7 3173,1117C3112.9,1122.4 3055.4,1127.8 3001.4,1133.1"/>
<path d="M113.4,303.3C131.6,325.2 147.2,347.1 157,369C169.3,396.3 184,423.7 184,451C184,587.3 184,723.7 184,860C184,868 188,876 192,884C199.1,898 218,912 248,926C258,930.7 284.2,935.3 301,940C331,948.3 357.1,956.7 386,965C436.8,979.7 483.2,994.3 542,1009C627.5,1030.3 677.6,1051.7 843,1073C874,1077 925.8,1081 1000,1085C1068,1088.7 1232.1,1092.3 1344,1096C1486.4,1100.7 1601.4,1105.3 1760,1110C1941.3,1115.3 2167.4,1120.7 2400,1126C2523.5,1128.8 2652.3,1131.7 2800,1134.5C2837,1135.2 2877.4,1135.9 2918.8,1136.6"/>
<path d="M3626,782.4C3412.4,804.3 3198.7,826.3 2985.1,848.3"/>
<path d="M3739.3,786C3758.6,809.7 3768,833.3 3768,857C3768,874.7 3758.7,892.3 3751,910C3740.8,933.3 3720.4,956.7 3700,980C3671.7,1012.3 3665.4,1044.7 3591,1077C3570.3,1086 3453.8,1095 3373,1104C3313.1,1110.7 3256.3,1117.3 3173,1124C3126.9,1127.7 3066.9,1131.4 3001.1,1135.1"/>
<path d="M2828,872.7C2741.9,894.2 2655.7,915.7 2569.6,937.3"/>
<path d="M2799.3,866.1C2663,878 2530.3,890 2400,902C2309.4,910.3 2244,918.7 2134,927C2031.9,934.7 1896.8,942.5 1740.6,950.2"/>
</g><g class="n">
<rect x="3096.7" y="6.7" width="164" height="45.3" fill="#bfbfbf" stroke="#000"/>
<rect x="2650.7" y="102" width="160" height="28" fill="#fff" stroke="#000"/>
<rect x="2573.3" y="188.7" width="152" height="28" fill="#fff" stroke="#000"/>
<rect x="2749.3" y="180" width="125.3" height="45.3" fill="#fff" stroke="#bfbfbf"/>
<rect x="4.7" y="275.3" width="193.3" height="28" fill="#fff" stroke="#000"/>
<rect x="2152" y="275.3" width="224" height="28" fill="#fff" stroke="#000"/>
<rect x="2119.3" y="352.7" width="70.7" height="28" fill="#fff" stroke="#bfbfbf"/>
<rect x="2340" y="352.7" width="178.7" height="28" fill="#fff" stroke="#000"/>
<rect x="2466.7" y="439.3" width="186.7" height="28" fill="#fff" stroke="#f00"/>
<rect x="2960.7" y="430.7" width="185.3" height="45.3" fill="#fff" stroke="#000"/>
<rect x="3272" y="439.3" width="176" height="28" fill="#fff" stroke="#000"/>
<rect x="2794.7" y="526" width="157.3" height="28" fill="#fff" stroke="#000"/>
<rect x="3104.7" y="526" width="156" height="28" fill="#fff" stroke="#000"/>
<rect x="2144.7" y="603.3" width="208" height="28" fill="#fff" stroke="#000"/>
<rect x="2729.3" y="603.3" width="189.3" height="28" fill="#fff" stroke="#000"/>
<rect x="1441.3" y="680.7" width="178.7" height="28" fill="#fff" stroke="#000"/>
<rect x="2052.7" y="680.7" width="201.3" height="28" fill="#fff" stroke="#f00"/>
<rect x="1097.3" y="758" width="157.3" height="28" fill="#fff" stroke="#000"/>
<rect x="1916.7" y="758" width="174.7" height="28" fill="#fff" stroke="#f00"/>
<rect x="3345.3" y="758" width="154.7" height="28" fill="#fff" stroke="#000"/>
<rect x="3626" y="758" width="201.3" height="28" fill="#fff" stroke="#000"/>
<rect x="270" y="844.7" width="154.7" height="28" fill="#fff" stroke="#f00"/>
<rect x="448" y="836" width="178.7" height="45.3" fill="#fff" stroke="#000"/>
<rect x="650" y="844.7" width="198.7" height="28" fill="#fff" stroke="#f00"/>
<rect x="973.3" y="844.7" width="165.3" height="28" fill="#fff" stroke="#f00"/>
<rect x="1263.3" y="844.7" width="78.7" height="28" fill="#fff" stroke="#bfbfbf"/>
<rect x="1516.7" y="844.7" width="161.3" height="28" fill="#fff" stroke="#000"/>
<rect x="1852.7" y="844.7" width="188" height="28" fill="#fff" stroke="#000"/>
<rect x="2469.3" y="844.7" width="154.7" height="28" fill="#fff" stroke="#000"/>
<rect x="2799.3" y="844.7" width="169.3" height="28" fill="#fff" stroke="#000"/>
<rect x="3194.7" y="844.7" width="205.3" height="28" fill="#fff" stroke="#000"/>
<rect x="3574.7" y="836" width="178.7" height="45.3" fill="#fff" stroke="#000"/>
<rect x="837.3" y="932" width="197.3" height="45.3" fill="#fff" stroke="#000"/>
<rect x="1159.3" y="940.7" width="38.7" height="28" fill="#fff" stroke="#bfbfbf"/>
<rect x="1423.3" y="940.7" width="72" height="28" fill="#fff" stroke="#bfbfbf"/>
<rect x="1570" y="940.7" width="156" height="28" fill="#fff" stroke="#000"/>
<rect x="2418.7" y="940.7" width="162.7" height="28" fill="#fff" stroke="#f00"/>
<rect x="3795.3" y="940.7" width="150.7" height="28" fill="#fff" stroke="#000"/>
<rect x="1700.7" y="1036.7" width="177.3" height="28" fill="#fff" stroke="#f00"/>
<rect x="2154" y="1036.7" width="153.3" height="28" fill="#fff" stroke="#f00"/>
<rect x="2431.3" y="1036.7" width="126.7" height="28" fill="#fff" stroke="#bfbfbf"/>
<rect x="2580.7" y="1036.7" width="140" height="28" fill="#fff" stroke="#bfbfbf"/>
<rect x="2743.3" y="1036.7" width="129.3" height="28" fill="#fff" stroke="#bfbfbf"/>
<rect x="3778" y="1028" width="185.3" height="45.3" fill="#fff" stroke="#f00"/>
<rect x="1001.3" y="1123.3" width="58.7" height="28" fill="#fff" stroke="#bfbfbf"/>
<rect x="1338" y="1123.3" width="145.3" height="28" fill="#fff" stroke="#000"/>
<rect x="1754.7" y="1123.3" width="69.3" height="28" fill="#fff" stroke="#bfbfbf"/>
<rect x="2932.7" y="1123.3" width="54.7" height="28" fill="#fff" stroke="#bfbfbf"/>
<rect x="3707.3" y="1123.3" width="68" height="28" fill="#fff" stroke="#bfbfbf"/>
<rect x="3844" y="1123.3" width="53.3" height="28" fill="#fff" stroke="#bfbfbf"/>
</g><g class="t">
<text x="3107.7" y="23.6">GaudiCommonSvc/src</text>
<text x="3107.7" y="41">/DataSvc/EvtDataSvc.h</text>
<text x="2730.7" y="119.7" text-anchor="middle">GaudiKernel/DataSvc.h</text>
<text x="2649.3" y="206.4" text-anchor="middle">GaudiKernel/Service.h</text>
<text x="2812" y="197.3" text-anchor="middle">boost/utility/string</text>
<text x="2812" y="214.7" text-anchor="middle">_ref.hpp</text>
<text x="101.3" y="293" text-anchor="middle">GaudiKernel/DataStoreItem.h</text>
<text x="2264" y="293" text-anchor="middle">GaudiKernel/CommonMessaging.h</text>
<text x="2154.7" y="370.4" text-anchor="middle">memory</text>
<text x="2429.3" y="370.4" text-anchor="middle">GaudiKernel/ISvcLocator.h</text>
<text x="2560" y="457" text-anchor="middle">GaudiKernel/ISvcManager.h</text>
<text x="3053.3" y="447.9" text-anchor="middle">GaudiKernel/ServiceLocator</text>
<text x="3053.3" y="465.3" text-anchor="middle">Helper.h</text>
<text x="3360" y="457" text-anchor="middle">GaudiKernel/IAuditorSvc.h</text>
<text x="2873.3" y="543.7" text-anchor="middle">GaudiKernel/IStateful.h</text>
<text x="3182.7" y="543.7" text-anchor="middle">GaudiKernel/IService.h</text>
<text x="2248.7" y="621" text-anchor="middle">GaudiKernel/TypeNameString.h</text>
<text x="2824" y="621" text-anchor="middle">GaudiKernel/StateMachine.h</text>
<text x="1530.7" y="698.4" text-anchor="middle">GaudiKernel/PropertyMgr.h</text>
<text x="2153.3" y="698.4" text-anchor="middle">GaudiKernel/GaudiException.h</text>
<text x="1176" y="775.7" text-anchor="middle">GaudiKernel/Property.h</text>
<text x="2004" y="775.7" text-anchor="middle">GaudiKernel/MsgStream.h</text>
<text x="3422.7" y="775.7" text-anchor="middle">GaudiKernel/IAuditor.h</text>
<text x="3726.7" y="775.7" text-anchor="middle">GaudiKernel/IConversionSvc.h</text>
<text x="347.3" y="862.4" text-anchor="middle">GaudiKernel/Parsers.h</text>
<text x="537.3" y="853.3" text-anchor="middle">GaudiKernel/IDataManager</text>
<text x="537.3" y="870.7" text-anchor="middle">Svc.h</text>
<text x="749.3" y="862.4" text-anchor="middle">GaudiKernel/PropertyVerifier.h</text>
<text x="1056" y="862.4" text-anchor="middle">GaudiKernel/ToStream.h</text>
<text x="1302.7" y="862.4" text-anchor="middle">stdexcept</text>
<text x="1597.3" y="862.4" text-anchor="middle">GaudiKernel/IProperty.h</text>
<text x="1946.7" y="862.4" text-anchor="middle">GaudiKernel/IMessageSvc.h</text>
<text x="2546.7" y="862.4" text-anchor="middle">GaudiKernel/SmartIF.h</text>
<text x="2884" y="862.4" text-anchor="middle">GaudiKernel/IConverter.h</text>
<text x="3297.3" y="862.4" text-anchor="middle">GaudiKernel/INamedInterface.h</text>
<text x="3664" y="853.3" text-anchor="middle">GaudiKernel/IDataProvider</text>
<text x="3664" y="870.7" text-anchor="middle">Svc.h</text>
<text x="936" y="949.3" text-anchor="middle">GaudiKernel/PropertyCallback</text>
<text x="936" y="966.7" text-anchor="middle">Functor.h</text>
<text x="1178.7" y="958.4" text-anchor="middle">list</text>
<text x="1459.3" y="958.4" text-anchor="middle">iostream</text>
<text x="1648" y="958.4" text-anchor="middle">GaudiKernel/ClassID.h</text>
<text x="2500" y="958.4" text-anchor="middle">GaudiKernel/IInterface.h</text>
<text x="3870.7" y="958.4" text-anchor="middle">Gaudi/PluginService.h</text>
<text x="1789.3" y="1054.4" text-anchor="middle">GaudiKernel/StatusCode.h</text>
<text x="2230.7" y="1054.4" text-anchor="middle">GaudiKernel/System.h</text>
<text x="2494.7" y="1054.4" text-anchor="middle">boost/mpl/set.hpp</text>
<text x="2650.7" y="1054.4" text-anchor="middle">boost/mpl/insert.hpp</text>
<text x="2808" y="1054.4" text-anchor="middle">boost/mpl/fold.hpp</text>
<text x="3870.7" y="1045.3" text-anchor="middle">Gaudi/Details/PluginService</text>
<text x="3870.7" y="1062.7" text-anchor="middle">Details.h</text>
<text x="1030.7" y="1141" text-anchor="middle">vector</text>
<text x="1410.7" y="1141" text-anchor="middle">GaudiKernel/Kernel.h</text>
<text x="1789.3" y="1141" text-anchor="middle">ostream</text>
<text x="2960" y="1141" text-anchor="middle">string</text>
<text x="3741.3" y="1141" text-anchor="middle">typeinfo</text>
<text x="3870.7" y="1141" text-anchor="middle">utility</text>
</g><g class="e">
<polygon points="2815.4,94.9 2803,102 2817.1,104"/>
<polygon points="3709.4,747.9 3719.4,758 3717.8,743.9"/>
<polygon points="2668.4,175.5 2662.5,188.7 2675.2,181.9"/>
<polygon points="623.2,827.3 612.1,836 626.2,836.1"/>
<polygon points="3629.8,828.6 3642.1,836 3637,822.6"/>
<polygon points="174.3,267.9 162.1,275.3 176.3,277"/>
<polygon points="2778.2,173.4 2790.7,180 2785,167.1"/>
<polygon points="3176.5,513 3182.2,526 3185.8,512.3"/>
<polygon points="2456.3,340.8 2448.1,352.7 2461.8,348.2"/>
<polygon points="3023.7,423.3 3035.9,430.7 3030.9,417.4"/>
<polygon points="1629,833.1 1620,844.7 1634.2,840.9"/>
<polygon points="2863,513.9 2870.5,526 2872.1,511.8"/>
<polygon points="1551.6,667.9 1545.5,680.7 1558.2,674.5"/>
<polygon points="1205.4,746.3 1197,758 1210.8,753.9"/>
<polygon points="3336.4,427.8 3348,436 3344,422.4"/>
<polygon points="2338.3,267.8 2326.2,275.3 2340.3,277"/>
<polygon points="2566.1,831.2 2560,844.7 2573,837.5"/>
<polygon points="3864.8,925.6 3869.5,940 3874.1,925.6"/>
<polygon points="986.8,1140.9 1001.3,1136.7 987.1,1131.6"/>
<polygon points="3283.2,833.2 3292.3,844.7 3292,830"/>
<polygon points="2901.7,595.8 2888.9,603.3 2903.6,604.9"/>
<polygon points="2998.3,1117.9 2987.3,1127.1 3001.7,1126.6"/>
<polygon points="2596.1,938.4 2581.3,944.9 2597.2,947.7"/>
<polygon points="2999.7,1124.7 2987.3,1132 3001.5,1133.9"/>
<polygon points="1496.2,1119.8 1483.3,1126.4 1497.6,1129"/>
<polygon points="2281.7,1027.5 2269.9,1036.7 2284.9,1036.3"/>
<polygon points="1870.8,1029.6 1858,1036.7 1872.5,1038.8"/>
<polygon points="1835.6,1118.3 1824,1126.7 1838.4,1127.2"/>
<polygon points="3689.8,1134.5 3707.3,1132.3 3691.1,1125.2"/>
<polygon points="2491.5,1022.8 2495.4,1036.7 2500.9,1023.3"/>
<polygon points="2614.4,1033.1 2628.7,1036.7 2619.5,1025.3"/>
<polygon points="2748.6,1037 2763.1,1036.7 2751.4,1028.1"/>
<polygon points="1496.3,1123.6 1483.3,1129.7 1497.2,1132.9"/>
<polygon points="2917.8,1139.8 2932.7,1135.9 2918.3,1130.5"/>
<polygon points="1076.1,1129.4 1060,1135.2 1076.7,1138.7"/>
<polygon points="3693.4,1140 3707.3,1135.9 3693.7,1130.7"/>
<polygon points="1484.9,1115.6 1471.8,1123.3 1487,1124.7"/>
<polygon points="1784.7,1109.8 1789.3,1123.3 1794,1109.8"/>
<polygon points="2267.7,676.8 2254,683.1 2268.8,686.1"/>
<polygon points="1392.3,1113.5 1402.5,1123.3 1400.6,1109.3"/>
<polygon points="1833,1027.1 1822.6,1036.7 1836.7,1035.7"/>
<polygon points="2040.8,747.7 2031,758 2045.1,756"/>
<polygon points="2225.6,1023.3 2230.5,1036.7 2235,1023.2"/>
<polygon points="2943.1,1113.7 2953.6,1123.3 2951.3,1109.2"/>
<polygon points="1508.4,940.6 1495.3,947.1 1509.7,949.9"/>
<polygon points="1959.4,830.9 1955.9,844.7 1967.2,836.1"/>
<polygon points="1071.3,1119 1060,1127.6 1074.3,1127.8"/>
<polygon points="2917.6,1140.9 2932.7,1136.6 2917.8,1131.6"/>
<polygon points="2404.8,942.9 2419.3,940.7 2406.4,933.7"/>
<polygon points="1507.1,936.4 1495.3,944.3 1509.5,945.4"/>
<polygon points="2918.8,1141.2 2932.7,1136.8 2919,1131.9"/>
<polygon points="2477.8,932.3 2489.4,940.7 2485.4,926.9"/>
<polygon points="2524.8,435.6 2538.9,439.3 2530,427.8"/>
<polygon points="2248.4,589.3 2250.6,603.3 2257.5,591"/>
<polygon points="2535.3,832.6 2543.2,844.7 2544.4,830.3"/>
<polygon points="2966.3,1109.2 2965.7,1123.3 2975,1112.6"/>
<polygon points="1209,937.3 1198,946.8 1212.5,946"/>
<polygon points="2545.7,830.6 2548.5,844.7 2555,831.9"/>
<polygon points="3090,531.2 3104.7,528.6 3091.4,522"/>
<polygon points="2286,592.4 2275.2,603.3 2290.3,600.7"/>
<polygon points="2944.6,1113 2954.2,1123.3 2953.1,1109.2"/>
<polygon points="2508.6,926.4 2506.8,940.7 2517,930.5"/>
<polygon points="2919,1139.5 2932.7,1135.7 2919.6,1130.2"/>
<polygon points="1740.5,1124.6 1754.7,1125.3 1744,1115.9"/>
<polygon points="3001,1129.2 2987.3,1135.3 3001.9,1138.4"/>
<polygon points="1884,1029.8 1871.5,1036.7 1885.6,1039"/>
<polygon points="2589.2,834.5 2578.1,844.7 2593,843"/>
<polygon points="3148,522.4 3161.8,526 3153.2,514.6"/>
<polygon points="2403.4,949.1 2418.7,946 2404.3,939.8"/>
<polygon points="1488,929 1479.5,940.7 1493.4,936.7"/>
<polygon points="1060.2,1112 1051.4,1123.3 1065.3,1119.8"/>
<polygon points="2916.7,1141.7 2932.7,1137.2 2916.8,1132.4"/>
<polygon points="2535.3,930.1 2525.8,940.7 2539.8,938.3"/>
<polygon points="2836.2,589.5 2832.9,603.3 2844.1,594.5"/>
<polygon points="2984.1,1111 2977.1,1123.3 2990.3,1118.1"/>
<polygon points="1462.5,925.5 1463.2,940.7 1471.5,928"/>
<polygon points="1057,1111 1048.8,1123.3 1062.7,1118.4"/>
<polygon points="3829.9,1134.9 3844,1132.5 3831.5,1125.7"/>
<polygon points="1321.9,831.8 1315.9,844.7 1328.6,838.3"/>
<polygon points="1252.8,750.5 1240.2,758 1254.8,759.6"/>
<polygon points="1582.1,833.5 1591.6,844.7 1590.7,830"/>
<polygon points="2919,1141.4 2932.7,1136.9 2919.1,1132.1"/>
<polygon points="1268.4,840.9 1282.2,844.7 1273.7,833.2"/>
<polygon points="3693.8,1139.6 3707.3,1135.6 3694.2,1130.3"/>
<polygon points="1324,1137.7 1338,1133.7 1324.5,1128.4"/>
<polygon points="831.8,837.2 818.3,844.7 833.6,846.3"/>
<polygon points="395.3,837 382.8,844.7 397.4,846.1"/>
<polygon points="1083.6,833 1075.4,844.7 1089.1,840.5"/>
<polygon points="2450.8,857.3 2469.3,853.8 2451.4,848"/>
<polygon points="929.4,918.4 934.1,932 938.8,918.4"/>
<polygon points="2918.7,1140.8 2932.7,1136.5 2919,1131.5"/>
<polygon points="987.2,1126.8 1001.3,1126.4 990,1117.9"/>
<polygon points="1145.1,951.2 1159.3,949.5 1147,942.1"/>
<polygon points="1686.9,1051.4 1700.7,1047.3 1687.3,1042.1"/>
<polygon points="1408.4,947.3 1423.3,946.1 1410.5,938.3"/>
<polygon points="1028.5,1109.1 1031.9,1123.3 1037.8,1110"/>
<polygon points="1147,935.8 1160.8,940.7 1152.8,928.5"/>
<polygon points="2918.2,1141.2 2932.7,1136.8 2918.4,1131.9"/>
<polygon points="1359.3,1122.6 1374.3,1123.3 1362.7,1113.9"/>
<polygon points="3221.3,515.9 3211.3,526 3225.4,524.3"/>
<polygon points="2320.1,1034.2 2307.3,1040.6 2321.3,1043.4"/>
<polygon points="3001.2,1131.5 2987.3,1136.7 3001.5,1140.8"/>
<polygon points="3411.5,745.7 3419.3,758 3420.6,743.5"/>
<polygon points="3326,833.2 3317.6,844.7 3331.3,840.9"/>
<polygon points="3000.3,1127.8 2987.3,1134 3001.4,1137"/>
<polygon points="3112.4,527.2 3126.6,526 3114.7,518.2"/>
<polygon points="2385.3,351.2 2399.4,352.7 2389.3,342.8"/>
<polygon points="1921.5,836.9 1933.7,844.7 1928.8,831.1"/>
<polygon points="1992.7,746.1 2000.4,758 2001.8,743.9"/>
<polygon points="2528.8,833.2 2539.7,844.7 2537.2,829.1"/>
<polygon points="2129.3,672.9 2141.4,680.7 2136.6,667.1"/>
<polygon points="2182.9,341 2174.5,352.7 2188.3,348.6"/>
<polygon points="3000.9,1130.9 2987.3,1136.2 3001.3,1140.2"/>
<polygon points="3787.9,1122.9 3775.3,1130.4 3789.9,1132.1"/>
<polygon points="3909.8,1125 3897.3,1132.3 3911.6,1134.2"/>
<polygon points="3866,1014.7 3870.7,1028 3875.3,1014.7"/>
<polygon points="3000.8,1130.2 2987.3,1135.7 3001.3,1139.5"/>
<polygon points="3770.8,1112 3762.2,1123.3 3776,1119.7"/>
<polygon points="3866,1109.8 3870.7,1123.3 3875.3,1109.8"/>
<polygon points="2404.3,956.8 2418.7,952.6 2404.5,947.5"/>
<polygon points="2918.1,1141.3 2932.7,1136.9 2918.2,1132"/>
<polygon points="987.2,1121.5 1001.6,1123.3 991.3,1113.1"/>
<polygon points="1556,944.8 1570,943 1557.9,935.7"/>
<polygon points="1420.7,1109.4 1417.8,1123.3 1428.7,1114.2"/>
<polygon points="2595.8,942.1 2581.3,948 2596.6,951.4"/>
<polygon points="3000.9,1128.5 2987.3,1134.6 3001.8,1137.8"/>
<polygon points="2918.8,1141.3 2932.7,1136.9 2918.9,1132"/>
<polygon points="2984.6,843.6 2968.7,850 2985.6,852.9"/>
<polygon points="3000.9,1130.4 2987.3,1135.8 3001.4,1139.7"/>
<polygon points="2568.5,932.7 2556,940.7 2570.7,941.8"/>
<polygon points="1740.3,945.5 1726,950.9 1740.8,954.9"/>
</g></svg></body></html>
